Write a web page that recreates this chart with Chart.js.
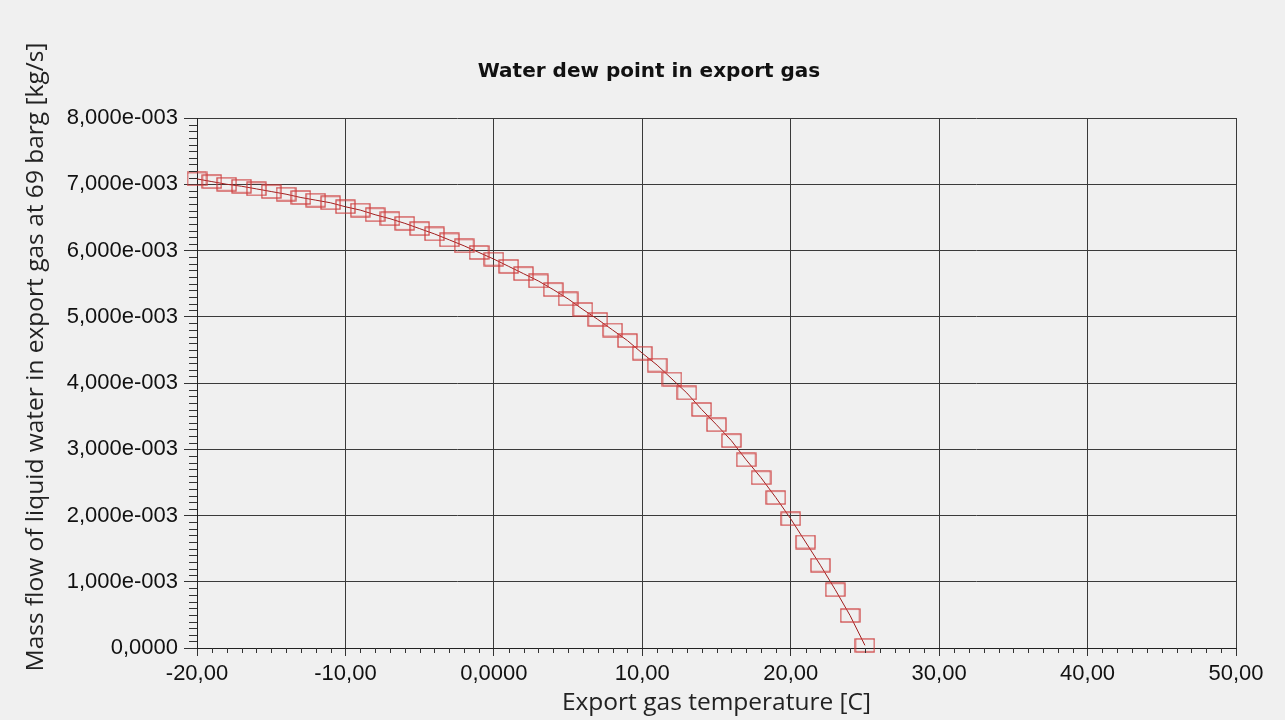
<!DOCTYPE html>
<html>
<head>
<meta charset="utf-8">
<title>Water dew point in export gas</title>
<script src="https://cdn.jsdelivr.net/npm/chart.js@4.4.1/dist/chart.umd.min.js"></script>
<style>
  html, body { margin: 0; padding: 0; background: #f0f0f0; }
</style>
</head>
<body>
<canvas id="chart" width="1285" height="720"></canvas>
<script>
// export gas temperature [C]
const temperatures = [
  -20, -19, -18, -17, -16, -15, -14, -13, -12, -11,
  -10, -9, -8, -7, -6, -5, -4, -3, -2, -1,
  0, 1, 2, 3, 4, 5, 6, 7, 8, 9,
  10, 11, 12, 13, 14, 15, 16, 17, 18, 19,
  20, 21, 22, 23, 24, 25
];

// mass flow of liquid water [kg/s]
const massFlow = [
  0.00708, 0.00704, 0.00700, 0.00697, 0.00693, 0.00689, 0.00685, 0.00680, 0.00676, 0.00672,
  0.00666, 0.00661, 0.00654, 0.00648, 0.00641, 0.00633, 0.00625, 0.00616, 0.00607, 0.00597,
  0.00587, 0.00576, 0.00565, 0.00554, 0.00541, 0.00527, 0.00511, 0.00496, 0.00480, 0.00464,
  0.00445, 0.00427, 0.00406, 0.00385, 0.00360, 0.00337, 0.00313, 0.00284, 0.00257, 0.00227,
  0.00195, 0.00160, 0.00125, 0.00088, 0.00049, 0.00004
];

const xTicks = [-20, -10, 0, 10, 20, 30, 40, 50];
const yTicks = [0, 0.001, 0.002, 0.003, 0.004, 0.005, 0.006, 0.007, 0.008];
const xMinorStep = 1;
const yMinorStep = 0.0001;
const yTitle = 'Mass flow of liquid water in export gas at 69 barg [kg/s]';

function fmtX(v) {
  if (v === 0) return '0,0000';
  return v.toFixed(2).replace('.', ',');
}

function fmtY(v) {
  if (Math.abs(v) < 1e-12) return '0,0000';
  const [m, e] = v.toExponential(3).split('e');
  const n = parseInt(e, 10);
  return m.replace('.', ',') + 'e' + (n < 0 ? '-' : '+') + String(Math.abs(n)).padStart(3, '0');
}

// hollow rectangle used as the point marker
function boxMarker(w, h, color) {
  const c = document.createElement('canvas');
  c.width = w;
  c.height = h;
  const g = c.getContext('2d');
  g.strokeStyle = color;
  g.lineWidth = 1.2;
  g.strokeRect(1, 1, w - 2, h - 2);
  return c;
}

// small ticks between the labelled ones
const minorTicks = {
  id: 'minorTicks',
  afterDraw(chart) {
    const { ctx, scales: { x, y } } = chart;
    ctx.save();
    ctx.strokeStyle = '#333';
    ctx.lineWidth = 1;
    ctx.beginPath();
    const nx = Math.round((x.max - x.min) / xMinorStep);
    for (let i = 1; i < nx; i++) {
      if (i % 10 === 0) continue;
      const px = Math.round(x.getPixelForValue(x.min + i * xMinorStep)) + 0.5;
      ctx.moveTo(px, x.top);
      ctx.lineTo(px, x.top + 5);
    }
    const ny = Math.round((y.max - y.min) / yMinorStep);
    for (let i = 1; i < ny; i++) {
      if (i % 10 === 0) continue;
      const py = Math.round(y.getPixelForValue(y.min + i * yMinorStep)) + 0.5;
      ctx.moveTo(y.right - 8, py);
      ctx.lineTo(y.right, py);
    }
    ctx.stroke();
    ctx.restore();
  }
};

// y axis title sits a bit above the middle of the axis in the original
const sideTitle = {
  id: 'sideTitle',
  afterDraw(chart) {
    const { ctx, chartArea } = chart;
    ctx.save();
    ctx.translate(36, (chartArea.top + chartArea.bottom) / 2 - 26);
    ctx.rotate(-Math.PI / 2);
    ctx.font = '24.5px "Open Sans"';
    ctx.fillStyle = '#222';
    ctx.textAlign = 'center';
    ctx.textBaseline = 'middle';
    ctx.fillText(yTitle, 0, 0);
    ctx.restore();
  }
};

const ctx = document.getElementById('chart').getContext('2d');

new Chart(ctx, {
  type: 'line',
  data: {
    datasets: [{
      label: 'Mass flow',
      data: temperatures.map((t, i) => ({ x: t, y: massFlow[i] })),
      borderColor: 'rgb(160, 30, 30)',
      borderWidth: 1,
      pointStyle: boxMarker(21, 15, 'rgb(205, 60, 60)'),
      tension: 0,
      fill: false,
      clip: false
    }]
  },
  options: {
    responsive: false,
    animation: false,
    layout: {
      padding: { top: 60, right: 49, bottom: 0, left: 62 }
    },
    plugins: {
      legend: { display: false },
      tooltip: { enabled: false },
      title: {
        display: true,
        text: 'Water dew point in export gas',
        color: '#111',
        font: { family: 'DejaVu Sans', size: 20, weight: 'bold' },
        padding: { top: 0, bottom: 34 }
      }
    },
    scales: {
      x: {
        type: 'linear',
        position: 'bottom',
        min: -20,
        max: 50,
        afterBuildTicks: (scale) => { scale.ticks = xTicks.map(v => ({ value: v })); },
        afterFit: (scale) => { scale.height = 72; },
        grid: { color: '#3a3a3a', lineWidth: 1, tickLength: 8, tickColor: '#333' },
        border: { color: '#222', width: 1 },
        ticks: {
          color: '#111',
          padding: 5,
          maxRotation: 0,
          autoSkip: false,
          font: { family: 'Liberation Sans', size: 22 },
          callback: (v) => fmtX(v)
        },
        title: {
          display: true,
          text: 'Export gas temperature [C]',
          color: '#222',
          font: { family: 'Open Sans', size: 24.5 },
          padding: { top: 0, bottom: 2 }
        }
      },
      y: {
        type: 'linear',
        min: 0,
        max: 0.008,
        afterBuildTicks: (scale) => { scale.ticks = yTicks.map(v => ({ value: v })); },
        afterFit: (scale) => { scale.width = 135; },
        grid: { color: '#3a3a3a', lineWidth: 1, tickLength: 13, tickColor: '#333' },
        border: { color: '#222', width: 1 },
        ticks: {
          color: '#111',
          padding: 6,
          autoSkip: false,
          font: { family: 'Liberation Sans', size: 22 },
          callback: (v) => fmtY(v)
        }
      }
    }
  },
  plugins: [minorTicks, sideTitle]
});
</script>
</body>
</html>
